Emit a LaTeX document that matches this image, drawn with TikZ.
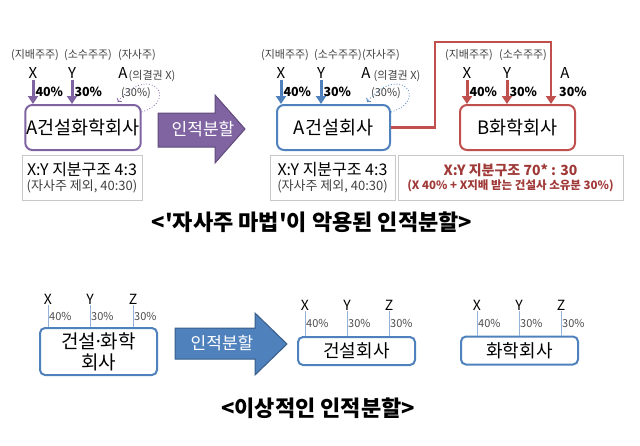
\documentclass[tikz,border=0pt]{standalone}
\usepackage{fontspec}
\setmainfont{Noto Sans CJK KR}
\usepackage{xcolor}
\usetikzlibrary{arrows.meta, positioning, calc}

\definecolor{purp}{HTML}{8064A2}
\definecolor{purpdark}{HTML}{5F4A7A}
\definecolor{blu}{HTML}{4F81BD}
\definecolor{bludark}{HTML}{385D8A}
\definecolor{redd}{HTML}{C0504D}
\definecolor{reddark}{HTML}{A03A38}
\definecolor{boxgray}{HTML}{C8C8C8}
\definecolor{tickblue}{HTML}{95B3D7}

% straight apostrophe, bypassing the tex-text mapping
\newcommand\sq{\XeTeXglyph\XeTeXcharglyph"0027\relax}

\begin{document}
\begin{tikzpicture}[
  x=1pt, y=-1pt,
  >=Latex,
  corp/.style={rectangle, rounded corners=7pt, line width=2pt, fill=white, minimum height=45pt, inner sep=1pt, font=\fontsize{18.5}{20}\selectfont},
  plaincorp/.style={rectangle, rounded corners=5pt, line width=2pt, draw=blu, fill=white, minimum width=117pt, inner sep=1pt, font=\fontsize{18}{19}\selectfont},
  note/.style={rectangle, draw=boxgray, align=center, minimum height=45pt, inner sep=1pt, font=\fontsize{16}{16}\selectfont},
  role/.style={font=\fontsize{11}{12}\selectfont, text=black!75},
  holder/.style={font=\fontsize{15}{15}\selectfont, inner sep=1pt},
  pct/.style={font=\bfseries\fontsize{12.5}{12}\selectfont, text=black, inner sep=1pt},
  thinpct/.style={font=\fontsize{11}{11}\selectfont, text=black!70, inner sep=1pt},
  own/.style={line width=3pt, -{Triangle[length=8pt,width=10pt]}},
  voteloop/.style={dotted, thick, -{To[length=3pt]}},
  tick/.style={draw=tickblue, thin},
  title/.style={font=\bfseries\fontsize{22}{24}\selectfont}
]
  \useasboundingbox (0,0) rectangle (640,445);

  % ---- top: the 'treasury stock' split ----
  \node[corp, draw=purp, minimum width=114pt] (AC) at (83,127.5) {A건설화학회사};
  \node[corp, draw=blu, minimum width=113pt] (Acon) at (333.5,127.5) {A건설회사};
  \node[corp, draw=redd, minimum width=115pt] (Bchem) at (517.5,127.5) {B화학회사};

  \node[note, minimum width=120pt] (n1) at (82,177.5) {X:Y 지분구조 4:3\\[-1pt]{\fontsize{13}{14}\selectfont\color{black!75}(자사주 제외, 40:30)}};
  \node[note, minimum width=125pt] (n2) at (332.5,177.5) {X:Y 지분구조 4:3\\[-1pt]{\fontsize{13}{14}\selectfont\color{black!75}(자사주 제외, 40:30)}};
  \node[note, minimum width=225pt, text=reddark, font=\bfseries\fontsize{14}{15}\selectfont] (n3) at (510.5,177.5) {X:Y 지분구조 70* : 30\\[-1pt]{\fontsize{11.5}{13}\selectfont(X 40\% + X지배 받는 건설사 소유분 30\%)}};

  % left group
  \node[role] (r1) at (35,55) {(지배주주)};
  \node[role] (r2) at (88,55) {(소수주주)};
  \node[role] (r3) at (137,55) {(자사주)};
  \node[holder] (x1) at (33,73) {X};
  \node[holder] (y1) at (72,73) {Y};
  \node[holder] (a1) at (123,73) {A};
  \node[role] (v1) at (152,76) {(의결권 X)};
  \draw[own, purp] (x1.south) -- node[pct, right] {40\%} (x1.south |- AC.north);
  \draw[own, purp] (y1.south) -- node[pct, right] {30\%} (y1.south |- AC.north);
  \node[role] (t1) at (136,93) {(30\%)};
  \draw[voteloop, purp] ($(AC.north east)+(0,8)$) .. controls (180,100) and (150,62) .. ($(AC.north east)+(-24,-2)$);

  % split arrow 1
  \draw[purpdark, fill=purp, line width=1pt] (158,113) -- (215,113) -- (215,95) -- (245,129) -- (215,163) -- (215,147) -- (158,147) -- cycle;
  \node[text=white, font=\fontsize{17}{17}\selectfont] (s1) at (203,129) {인적분할};

  % middle group
  \node[role] (r4) at (285,55) {(지배주주)};
  \node[role] (r5) at (338,55) {(소수주주)};
  \node[role] (r6) at (381,55) {(자사주)};
  \node[holder] (x2) at (281,73) {X};
  \node[holder] (y2) at (321,73) {Y};
  \node[holder] (a2) at (366,73) {A};
  \node[role] (v2) at (397,76) {(의결권 X)};
  \draw[own, blu] (x2.south) -- node[pct, right] {40\%} (x2.south |- Acon.north);
  \draw[own, blu] (y2.south) -- node[pct, right] {30\%} (y2.south |- Acon.north);
  \node[role] (t2) at (386,93) {(30\%)};
  \draw[voteloop, blu] ($(Acon.north east)+(0,8)$) .. controls (430,100) and (400,62) .. ($(Acon.north east)+(-24,-2)$);

  % right group
  \node[role] (r7) at (469,55) {(지배주주)};
  \node[role] (r8) at (523,55) {(소수주주)};
  \node[holder] (x3) at (467,73) {X};
  \node[holder] (y3) at (507,73) {Y};
  \node[holder] (a3) at (565,73) {A};
  \draw[own, redd] (x3.south) -- node[pct, right] {40\%} (x3.south |- Bchem.north);
  \draw[own, redd] (y3.south) -- node[pct, right] {30\%} (y3.south |- Bchem.north);
  \coordinate (bend) at (435,42);
  \coordinate (drop) at (551,42);
  \draw[own, redd, line width=2.5pt] (Acon.east) -| (bend) -- (drop) -- (drop |- Bchem.north);
  \node[pct] (p3) at (573,92) {30\%};

  \node[title] (cap1) at (312,222) {<\sq 자사주 마법\sq 이 악용된 인적분할>};

  % ---- bottom: the ideal split ----
  \node[plaincorp, minimum height=47pt, align=center, font=\fontsize{19}{21}\selectfont] (ABc) at (98.5,351.5) {건설\kern-3pt·\kern-3pt화학\\회사};
  \node[plaincorp, minimum height=28pt] (Cc) at (356.5,351) {건설회사};
  \node[plaincorp, minimum height=28pt] (Hc) at (519.5,350.5) {화학회사};

  \foreach \nm/\xx/\lab/\pp in {xa/48/X/40, ya/90/Y/30, za/133/Z/30}{
    \node[holder, font=\fontsize{14}{14}\selectfont] (\nm) at (\xx,299) {\lab};
    \draw[tick] (\nm.south) -- (\nm.south |- ABc.north) node[thinpct, midway, right] {\pp\%};
  }
  \foreach \nm/\xx/\lab/\pp in {xb/305/X/40, yb/347/Y/30, zb/389/Z/30}{
    \node[holder, font=\fontsize{14}{14}\selectfont] (\nm) at (\xx,305) {\lab};
    \draw[tick] (\nm.south) -- (\nm.south |- Cc.north) node[thinpct, midway, right] {\pp\%};
  }
  \foreach \nm/\xx/\lab/\pp in {xc/477/X/40, yc/519/Y/30, zc/561/Z/30}{
    \node[holder, font=\fontsize{14}{14}\selectfont] (\nm) at (\xx,305) {\lab};
    \draw[tick] (\nm.south) -- (\nm.south |- Hc.north) node[thinpct, midway, right] {\pp\%};
  }

  % split arrow 2
  \draw[bludark, fill=blu, line width=1pt] (175,328) -- (255,328) -- (255,313) -- (287,344) -- (255,375) -- (255,359) -- (175,359) -- cycle;
  \node[text=white, font=\fontsize{17}{17}\selectfont] (s2) at (222,343) {인적분할};

  \node[title] (cap2) at (318,408) {<이상적인 인적분할>};
\end{tikzpicture}
\end{document}
